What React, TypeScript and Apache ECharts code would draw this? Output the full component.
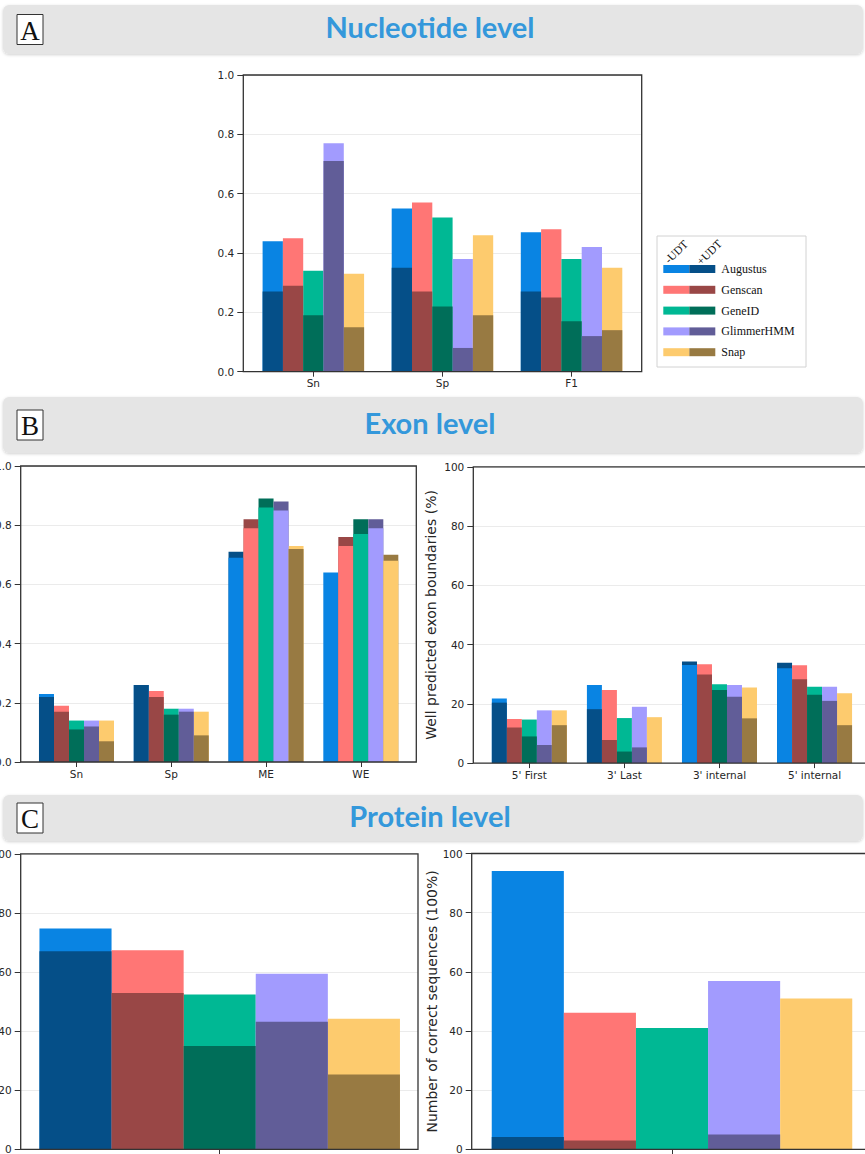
import React, { useEffect, useRef } from "react";
import * as echarts from "echarts";

// Gene predictors compared, with and without UDT
const TOOLS = ["Augustus", "Genscan", "GeneID", "GlimmerHMM", "Snap"];
const COLOR_NO_UDT = ["#0984e3", "#ff7675", "#00b894", "#a29bfe", "#fdcb6e"];
const COLOR_UDT = ["#054f88", "#994746", "#006e59", "#615d98", "#987a42"];

// A — nucleotide level (rows follow TOOLS)
const NUC_CATEGORIES = ["Sn", "Sp", "F1"];
const NUC_NO_UDT = [
  [0.44, 0.55, 0.47],
  [0.45, 0.57, 0.48],
  [0.34, 0.52, 0.38],
  [0.77, 0.38, 0.42],
  [0.33, 0.46, 0.35],
];
const NUC_UDT = [
  [0.27, 0.35, 0.27],
  [0.29, 0.27, 0.25],
  [0.19, 0.22, 0.17],
  [0.71, 0.08, 0.12],
  [0.15, 0.19, 0.14],
];

// B — exon level
const EXON_CATEGORIES = ["Sn", "Sp", "ME", "WE"];
const EXON_NO_UDT = [
  [0.23, 0.26, 0.69, 0.64],
  [0.19, 0.24, 0.79, 0.73],
  [0.14, 0.18, 0.86, 0.77],
  [0.14, 0.18, 0.85, 0.79],
  [0.14, 0.17, 0.73, 0.68],
];
const EXON_UDT = [
  [0.22, 0.26, 0.71, 0],
  [0.17, 0.22, 0.82, 0.76],
  [0.11, 0.16, 0.89, 0.82],
  [0.12, 0.17, 0.88, 0.82],
  [0.07, 0.09, 0.72, 0.7],
];

const BOUNDARY_CATEGORIES = ["5' First", "3' Last", "3' internal", "5' internal"];
const BOUNDARY_NO_UDT = [
  [21.8, 26.4, 33.1, 32.0],
  [14.9, 24.7, 33.4, 33.0],
  [14.7, 15.2, 26.6, 25.8],
  [17.8, 19.0, 26.4, 25.8],
  [17.8, 15.5, 25.5, 23.6],
];
const BOUNDARY_UDT = [
  [20.4, 18.2, 34.3, 33.9],
  [12.0, 7.8, 29.9, 28.3],
  [9.0, 3.9, 24.7, 23.1],
  [6.1, 5.3, 22.4, 21.0],
  [12.8, 0, 15.1, 12.8],
];

// C — protein level (one group per panel)
const PROTEIN_CATEGORIES = [""];
const PROTEIN_ACC_NO_UDT = [[74.7], [67.4], [52.4], [59.4], [44.2]];
const PROTEIN_ACC_UDT = [[67.0], [52.9], [35.0], [43.2], [25.3]];
const PROTEIN_CORRECT_NO_UDT = [[94.1], [46.2], [41.0], [56.9], [51.0]];
const PROTEIN_CORRECT_UDT = [[4.2], [3.0], [0], [5.0], [0]];

const FRACTION_TICKS = { max: 1, interval: 0.2, decimals: 1 };
const PERCENT_TICKS = { max: 100, interval: 20, decimals: 0 };

const SECTION_TITLES = ["Nucleotide level", "Exon level", "Protein level"];
const SECTION_LETTERS = ["A", "B", "C"];
const LEGEND_HEADS = ["-UDT", "+UDT"];

const AXIS_FONT = "DejaVu Sans";
const AXIS_COLOR = "#262626";
const FRAME_COLOR = "#333333";

type PanelSpec = {
  frame: { left: number; top: number; width: number; height: number };
  bars: { left: number; width: number };
  barWidth: number;
  categories: string[];
  noUdt: number[][];
  udt: number[][];
  ticks: { max: number; interval: number; decimals: number };
  yName?: string;
  nameGap?: number;
};

const PANELS: PanelSpec[] = [
  {
    frame: { left: 243.3, top: 75, width: 398.4, height: 296.7 },
    bars: { left: 248.8, width: 387.3 },
    barWidth: 20.3,
    categories: NUC_CATEGORIES,
    noUdt: NUC_NO_UDT,
    udt: NUC_UDT,
    ticks: FRACTION_TICKS,
  },
  {
    frame: { left: 20.7, top: 466, width: 395.6, height: 296 },
    bars: { left: 29.1, width: 379.1 },
    barWidth: 15,
    categories: EXON_CATEGORIES,
    noUdt: EXON_NO_UDT,
    udt: EXON_UDT,
    ticks: FRACTION_TICKS,
  },
  {
    frame: { left: 473.3, top: 466.8, width: 397, height: 296.3 },
    bars: { left: 481.8, width: 380.3 },
    barWidth: 15,
    categories: BOUNDARY_CATEGORIES,
    noUdt: BOUNDARY_NO_UDT,
    udt: BOUNDARY_UDT,
    ticks: PERCENT_TICKS,
    yName: "Well predicted exon boundaries (%)",
    nameGap: 35,
  },
  {
    frame: { left: 20.7, top: 853.8, width: 397.3, height: 295.5 },
    bars: { left: 29.3, width: 380.8 },
    barWidth: 72.1,
    categories: PROTEIN_CATEGORIES,
    noUdt: PROTEIN_ACC_NO_UDT,
    udt: PROTEIN_ACC_UDT,
    ticks: PERCENT_TICKS,
  },
  {
    frame: { left: 471.7, top: 853.5, width: 398, height: 295.8 },
    bars: { left: 482, width: 380 },
    barWidth: 72.1,
    categories: PROTEIN_CATEGORIES,
    noUdt: PROTEIN_CORRECT_NO_UDT,
    udt: PROTEIN_CORRECT_UDT,
    ticks: PERCENT_TICKS,
    yName: "Number of correct sequences (100%)",
    nameGap: 31,
  },
];

// Section header bands
const BANDS = [
  { top: 5, height: 49 },
  { top: 397, height: 56 },
  { top: 795, height: 46 },
];

const LEGEND_BOX = { x: 657, y: 236, width: 149, height: 131 };
// Anchor points of the rotated column heads (centre line start)
const LEGEND_HEAD_ANCHORS = [
  { x: 666.5, y: 261.5 },
  { x: 698.5, y: 263 },
];

function buildOption() {
  const grid: any[] = [];
  const xAxis: any[] = [];
  const yAxis: any[] = [];
  const series: any[] = [];
  const graphic: any[] = [];

  PANELS.forEach((p) => {
    // Frame grid: value axis with ticks, labels and grid lines
    const gFrame = grid.length;
    grid.push({
      left: p.frame.left,
      top: p.frame.top,
      width: p.frame.width,
      height: p.frame.height,
      outerBoundsMode: "none",
      containLabel: false,
    });
    xAxis.push({ type: "value", gridIndex: gFrame, show: false, min: 0, max: 1 });
    yAxis.push({
      type: "value",
      gridIndex: gFrame,
      min: 0,
      max: p.ticks.max,
      interval: p.ticks.interval,
      axisLine: { show: false },
      axisTick: { show: true, length: 6, lineStyle: { color: FRAME_COLOR, width: 1 } },
      axisLabel: {
        margin: 9,
        fontFamily: AXIS_FONT,
        fontSize: 10.5,
        color: AXIS_COLOR,
        formatter: (v: number) => v.toFixed(p.ticks.decimals),
      },
      splitLine: { show: true, lineStyle: { color: "#ebebeb", width: 1 } },
      name: p.yName,
      nameLocation: "middle",
      nameRotate: 90,
      nameGap: p.nameGap,
      nameTextStyle: { fontFamily: AXIS_FONT, fontSize: 14, color: AXIS_COLOR },
    });

    // Bar grid: category axis carrying the grouped bars
    const gBars = grid.length;
    grid.push({
      left: p.bars.left,
      top: p.frame.top,
      width: p.bars.width,
      height: p.frame.height,
      outerBoundsMode: "none",
      containLabel: false,
    });
    const xBack = xAxis.length;
    xAxis.push({
      type: "category",
      gridIndex: gBars,
      data: p.categories,
      axisLine: { show: false },
      axisTick: { show: true, alignWithLabel: true, length: 5, lineStyle: { color: FRAME_COLOR, width: 1 } },
      axisLabel: { margin: 6, fontFamily: AXIS_FONT, fontSize: 10.5, color: AXIS_COLOR },
    });
    const xFront = xAxis.length;
    xAxis.push({ type: "category", gridIndex: gBars, data: p.categories, show: false });
    const yBars = yAxis.length;
    yAxis.push({ type: "value", gridIndex: gBars, min: 0, max: p.ticks.max, show: false });

    // The shorter of the two runs is drawn in front of the taller one
    TOOLS.forEach((tool, t) => {
      const back = p.categories.map((_, c) => {
        const a = p.noUdt[t][c];
        const b = p.udt[t][c];
        const udtFront = b <= a;
        return { value: udtFront ? a : b, itemStyle: { color: udtFront ? COLOR_NO_UDT[t] : COLOR_UDT[t] } };
      });
      const front = p.categories.map((_, c) => {
        const a = p.noUdt[t][c];
        const b = p.udt[t][c];
        const udtFront = b <= a;
        return { value: udtFront ? b : a, itemStyle: { color: udtFront ? COLOR_UDT[t] : COLOR_NO_UDT[t] } };
      });
      series.push({
        type: "bar",
        name: tool,
        xAxisIndex: xBack,
        yAxisIndex: yBars,
        data: back,
        barWidth: p.barWidth,
        barGap: "0%",
        z: 2,
      });
      series.push({
        type: "bar",
        name: tool + " front",
        xAxisIndex: xFront,
        yAxisIndex: yBars,
        data: front,
        barWidth: p.barWidth,
        barGap: "0%",
        z: 3,
      });
    });

    graphic.push({
      type: "rect",
      silent: true,
      z: 100,
      shape: { x: p.frame.left, y: p.frame.top, width: p.frame.width, height: p.frame.height },
      style: { fill: "none", stroke: FRAME_COLOR, lineWidth: 1.3 },
    });
  });

  // Section header bands with letter boxes and titles
  BANDS.forEach((b, i) => {
    const cy = b.top + b.height / 2;
    graphic.push({
      type: "rect",
      silent: true,
      z: 50,
      shape: { x: 3, y: b.top, width: 860, height: b.height, r: 6 },
      style: { fill: "#e5e5e5", shadowBlur: 3, shadowColor: "rgba(0,0,0,0.18)", shadowOffsetY: 1 },
    });
    graphic.push({
      type: "rect",
      silent: true,
      z: 51,
      shape: { x: 17, y: cy - 15, width: 26, height: 30 },
      style: { fill: "#ffffff", stroke: "#333333", lineWidth: 1 },
    });
    graphic.push({
      type: "text",
      silent: true,
      z: 52,
      x: 30,
      y: cy + 1,
      style: {
        text: SECTION_LETTERS[i],
        font: "27px 'Liberation Serif'",
        fill: "#111111",
        align: "center",
        verticalAlign: "middle",
      },
    });
    graphic.push({
      type: "text",
      silent: true,
      z: 52,
      x: 430,
      y: cy - 3,
      style: {
        text: SECTION_TITLES[i],
        font: "bold 29px Lato",
        fill: "#3498db",
        align: "center",
        verticalAlign: "middle",
      },
    });
  });

  // Legend: two swatches per tool (-UDT / +UDT)
  graphic.push({
    type: "rect",
    silent: true,
    z: 60,
    shape: { ...LEGEND_BOX },
    style: { fill: "#ffffff", stroke: "#d2d2d2", lineWidth: 1 },
  });
  const sx = LEGEND_BOX.x + 6.3;
  LEGEND_HEADS.forEach((h, i) => {
    graphic.push({
      type: "text",
      silent: true,
      z: 61,
      x: LEGEND_HEAD_ANCHORS[i].x,
      y: LEGEND_HEAD_ANCHORS[i].y,
      rotation: Math.PI / 4,
      style: { text: h, font: "11.5px 'Liberation Serif'", fill: "#111111", align: "left", verticalAlign: "middle" },
    });
  });
  TOOLS.forEach((tool, t) => {
    const cy = 269 + t * 20.8;
    graphic.push({
      type: "rect",
      silent: true,
      z: 61,
      shape: { x: sx, y: cy - 4, width: 26, height: 8 },
      style: { fill: COLOR_NO_UDT[t] },
    });
    graphic.push({
      type: "rect",
      silent: true,
      z: 61,
      shape: { x: sx + 26, y: cy - 4, width: 26, height: 8 },
      style: { fill: COLOR_UDT[t] },
    });
    graphic.push({
      type: "text",
      silent: true,
      z: 61,
      x: sx + 58,
      y: cy,
      style: { text: tool, font: "12px 'Liberation Serif'", fill: "#111111", align: "left", verticalAlign: "middle" },
    });
  });

  return {
    animation: false,
    backgroundColor: "#ffffff",
    grid,
    xAxis,
    yAxis,
    series,
    graphic,
  };
}

export default function App() {
  const ref = useRef<HTMLDivElement>(null);
  useEffect(() => {
    if (!ref.current) return;
    const chart = echarts.init(ref.current, undefined, { renderer: "svg" });
    chart.setOption(buildOption() as any);
    return () => chart.dispose();
  }, []);
  return (
    <div
      ref={ref}
      style={{ position: "absolute", left: 0, top: 0, width: 865, height: 1154, background: "#ffffff" }}
    />
  );
}
